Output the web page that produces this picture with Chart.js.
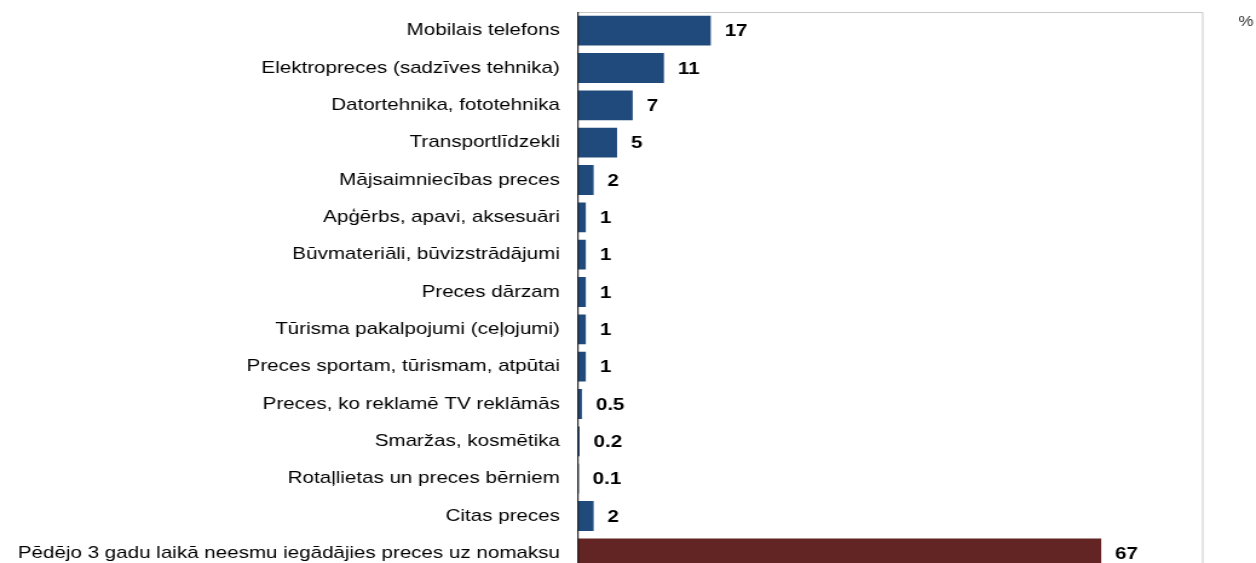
<!DOCTYPE html>
<html>
<head>
<meta charset="utf-8">
<script src="https://cdn.jsdelivr.net/npm/chart.js@4"></script>
<style>
  html, body { margin: 0; padding: 0; background: #fff; overflow: hidden; }
  /* oriģinālais attēls ir horizontāli izstiepts, tāpēc izstiepjam arī šeit */
  #wrap { position: relative; width: 1038px; height: 572px; transform: scaleX(1.21); transform-origin: 0 0; }
</style>
</head>
<body>
<div id="wrap"><canvas id="chart"></canvas></div>
<script>
// kategorijas
const categories = [
  'Mobilais telefons',
  'Elektropreces (sadzīves tehnika)',
  'Datortehnika, fototehnika',
  'Transportlīdzekli',
  'Mājsaimniecības preces',
  'Apģērbs, apavi, aksesuāri',
  'Būvmateriāli, būvizstrādājumi',
  'Preces dārzam',
  'Tūrisma pakalpojumi (ceļojumi)',
  'Preces sportam, tūrismam, atpūtai',
  'Preces, ko reklamē TV reklāmās',
  'Smaržas, kosmētika',
  'Rotaļlietas un preces bērniem',
  'Citas preces',
  'Pēdējo 3 gadu laikā neesmu iegādājies preces uz nomaksu'
];
const values = [17, 11, 7, 5, 2, 1, 1, 1, 1, 1, 0.5, 0.2, 0.1, 2, 67];
const unitLabel = '%';

const blue = '#214a7c';
const red = '#632523';
const barColors = values.map((v, i) => i === values.length - 1 ? red : blue);
const fontFamily = '"Liberation Sans", Arial, sans-serif';

// vērtību etiķetes un rāmis
const extrasPlugin = {
  id: 'extras',
  afterDatasetsDraw(chart) {
    const ctx = chart.ctx;
    const area = chart.chartArea;
    const meta = chart.getDatasetMeta(0);
    ctx.save();
    // pelēkais rāmis
    ctx.strokeStyle = '#c8c8c8';
    ctx.lineWidth = 1;
    ctx.beginPath();
    ctx.moveTo(area.left, area.top + 0.5);
    ctx.lineTo(area.right, area.top + 0.5);
    ctx.lineTo(area.right, area.bottom - 0.5);
    ctx.lineTo(area.left, area.bottom - 0.5);
    ctx.stroke();
    // kreisā ass
    ctx.strokeStyle = '#000';
    ctx.beginPath();
    ctx.moveTo(area.left, area.top);
    ctx.lineTo(area.left, area.bottom);
    ctx.stroke();
    // vērtības
    ctx.fillStyle = '#000';
    ctx.font = 'bold 17px ' + fontFamily;
    ctx.textBaseline = 'middle';
    ctx.textAlign = 'left';
    meta.data.forEach((bar, i) => {
      ctx.fillText(String(values[i]), bar.x + 11.5, bar.y + 1);
    });
    // %
    ctx.font = '14px ' + fontFamily;
    ctx.fillStyle = '#333';
    ctx.fillText(unitLabel, 1023.5, 22.5);
    ctx.restore();
  }
};

new Chart(document.getElementById('chart'), {
  type: 'bar',
  data: {
    labels: categories,
    datasets: [{
      data: values,
      backgroundColor: barColors,
      borderWidth: 0,
      categoryPercentage: 0.8,
      barPercentage: 1
    }]
  },
  options: {
    indexAxis: 'y',
    responsive: true,
    maintainAspectRatio: false,
    animation: false,
    layout: { padding: { left: 0, top: 12, right: 44, bottom: 0 } },
    plugins: {
      legend: { display: false },
      tooltip: { enabled: false }
    },
    scales: {
      x: {
        display: false,
        min: 0,
        max: 80
      },
      y: {
        afterFit(scale) {
          scale.width = 477.7;
          scale.paddingTop = 0;
          scale.paddingBottom = 0;
        },
        grid: { display: false, drawTicks: false },
        border: { display: false },
        ticks: {
          color: '#000',
          padding: 15,
          autoSkip: false,
          font: { family: fontFamily, size: 17 }
        }
      }
    }
  },
  plugins: [extrasPlugin]
});
</script>
</body>
</html>
